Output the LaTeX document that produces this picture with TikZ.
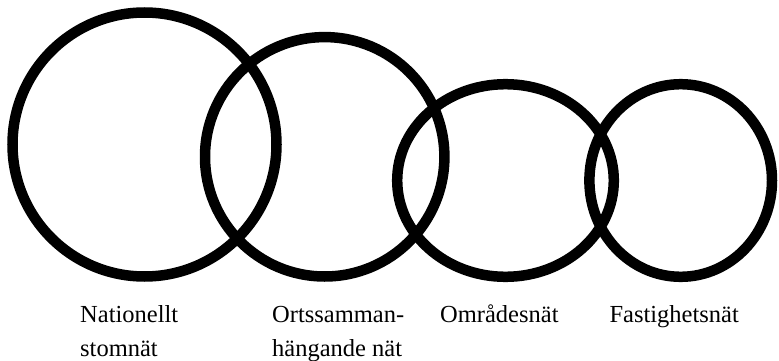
\documentclass[tikz,border=0pt]{standalone}
\usepackage{fontspec}
\setmainfont{Liberation Serif}
\begin{document}
\begin{tikzpicture}[x=1pt,y=-1pt,
  ring/.style={draw=black,line width=10.5pt},
  lbl/.style={anchor=base west,align=left,inner sep=0pt,font=\fontsize{24.5}{34}\selectfont}]
\useasboundingbox (0,0) rectangle (779,361);
\draw[ring] (144.5,144.5) circle (132);
\draw[ring] (324.7,156.8) circle (119.7);
\draw[ring] (505.5,180.5) ellipse [x radius=108.3,y radius=96.3];
\draw[ring] (680.7,180.5) ellipse [x radius=91.3,y radius=96.3];
\node[lbl] (n1) at (80,356) {Nationellt\\stomnät};
\node[lbl] (n2) at (272,356) {Ortssamman-\\hängande nät};
\node[lbl] (n3) at (440,322) {Områdesnät};
\node[lbl] (n4) at (609.3,322) {Fastighetsnät};
\end{tikzpicture}
\end{document}
